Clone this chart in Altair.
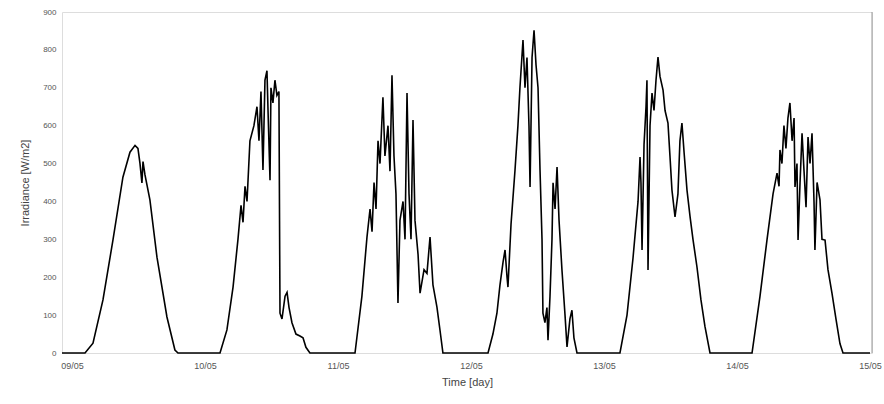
import altair as alt
import pandas as pd

# time in days (0 = first tick label), irradiance in W/m2
t = [
    -0.075, 0.098, 0.158, 0.233, 0.308, 0.383, 0.436, 0.474, 0.496, 0.511, 0.526, 0.534, 0.549, 0.586, 0.639, 0.714, 0.774, 0.797,
    1.113, 1.165, 1.211, 1.248, 1.271, 1.286, 1.301, 1.316, 1.338, 1.368, 1.391, 1.406, 1.421, 1.436, 1.451, 1.466, 1.474, 1.489,
    1.496, 1.511, 1.526, 1.541, 1.556, 1.564, 1.579, 1.602, 1.617, 1.632, 1.654, 1.684, 1.714, 1.737, 1.759, 1.789,
    2.128, 2.180, 2.218, 2.241, 2.256, 2.271, 2.286, 2.301, 2.316, 2.338, 2.353, 2.376, 2.391, 2.406, 2.421, 2.436, 2.451, 2.466,
    2.489, 2.504, 2.519, 2.534, 2.549, 2.564, 2.579, 2.602, 2.617, 2.647, 2.669, 2.692, 2.714, 2.744, 2.767, 2.789,
    3.128, 3.165, 3.195, 3.218, 3.241, 3.256, 3.271, 3.278, 3.301, 3.331, 3.353, 3.368, 3.391, 3.406, 3.421, 3.436, 3.444, 3.459,
    3.474, 3.489, 3.504, 3.519, 3.534, 3.541, 3.556, 3.571, 3.579, 3.594, 3.609, 3.617, 3.632, 3.647, 3.662, 3.684, 3.707, 3.722,
    3.744, 3.759, 3.774, 3.797,
    4.120, 4.173, 4.218, 4.256, 4.271, 4.278, 4.286, 4.301, 4.316, 4.323, 4.331, 4.346, 4.361, 4.376, 4.391, 4.406, 4.421, 4.444,
    4.459, 4.481, 4.496, 4.511, 4.534, 4.556, 4.571, 4.586, 4.602, 4.624, 4.647, 4.669, 4.699, 4.729, 4.759, 4.797,
    5.113, 5.173, 5.226, 5.271, 5.301, 5.316, 5.323, 5.338, 5.353, 5.368, 5.383, 5.398, 5.414, 5.429, 5.436, 5.451, 5.459, 5.474,
    5.489, 5.504, 5.519, 5.534, 5.549, 5.564, 5.579, 5.586, 5.602, 5.624, 5.639, 5.662, 5.684, 5.714, 5.744, 5.774, 5.797, 6.0,
]
irr = [
    0, 0, 26, 140, 298, 464, 530, 548, 540, 501, 449, 505, 470, 404, 253, 95, 8, 0,
    0, 61, 174, 300, 390, 345, 440, 400, 560, 600, 650, 560, 690, 483, 720, 745, 640, 456,
    700, 660, 720, 680, 690, 105, 90, 150, 160, 120, 80, 50, 45, 40, 15, 0,
    0, 150, 306, 380, 320, 450, 380, 560, 500, 675, 520, 600, 480, 733, 520, 420, 132, 350,
    400, 300, 686, 420, 300, 615, 350, 260, 158, 220, 210, 306, 180, 121, 60, 0,
    0, 50, 105, 180, 240, 272, 200, 174, 340, 483, 600, 700, 826, 700, 780, 600, 438, 780,
    852, 760, 700, 483, 300, 105, 80, 120, 34, 150, 300, 449, 380, 491, 350, 219, 100, 16,
    90, 113, 40, 0,
    0, 100, 250, 400, 517, 450, 272, 550, 650, 720, 219, 600, 686, 640, 720, 781, 730, 694,
    640, 607, 520, 430, 359, 420, 560, 607, 530, 430, 360, 300, 227, 140, 70, 0,
    0, 150, 300, 420, 475, 440, 536, 500, 600, 540, 620, 660, 560, 620, 438, 500, 298, 450,
    580, 480, 385, 570, 500, 580, 400, 272, 450, 404, 300, 298, 220, 158, 90, 25, 0, 0,
]
x_ticks = [0, 1, 2, 3, 4, 5, 6]
x_labels = ["09/05", "10/05", "11/05", "12/05", "13/05", "14/05", "15/05"]
y_ticks = [0, 100, 200, 300, 400, 500, 600, 700, 800, 900]

df = pd.DataFrame({"t": t, "irr": irr})
label_expr = "[" + ",".join(f"'{s}'" for s in x_labels) + "][round(datum.value)]"

FONT = "Liberation Sans"

line = alt.Chart(df).mark_line(color="black", strokeWidth=1.6).encode(
    x=alt.X("t:Q", scale=alt.Scale(domain=[-0.075, 6.015], nice=False, zero=False),
            axis=alt.Axis(values=x_ticks, labelExpr=label_expr, title="Time [day]",
                          grid=False, domain=False, ticks=False, labelFontSize=9,
                          labelColor="#555", titleColor="#444", titleFontSize=11,
                          titleFontWeight="normal", labelPadding=8, titlePadding=6,
                          labelFont=FONT, titleFont=FONT)),
    y=alt.Y("irr:Q", scale=alt.Scale(domain=[0, 900], nice=False),
            axis=alt.Axis(values=y_ticks, title="Irradiance [W/m2]", grid=False,
                          domain=False, ticks=False, labelFontSize=8, labelColor="#555",
                          titleColor="#444", titleFontSize=11, titleFontWeight="normal",
                          labelPadding=6, titlePadding=12, labelFont=FONT, titleFont=FONT)),
)

border = alt.Chart(pd.DataFrame({"a": [0]})).mark_rule(color="#999", strokeWidth=1).encode(
    x=alt.value(810), y=alt.value(0), y2=alt.value(341)
)

chart = alt.layer(line, border).properties(
    width=810, height=341,
    autosize=alt.AutoSizeParams(type="none"),
    padding={"left": 62, "top": 12, "right": 12, "bottom": 51},
).configure_view(stroke=None).configure(background="white")

chart.save("out.html", embed_options={"renderer": "svg", "actions": False})
